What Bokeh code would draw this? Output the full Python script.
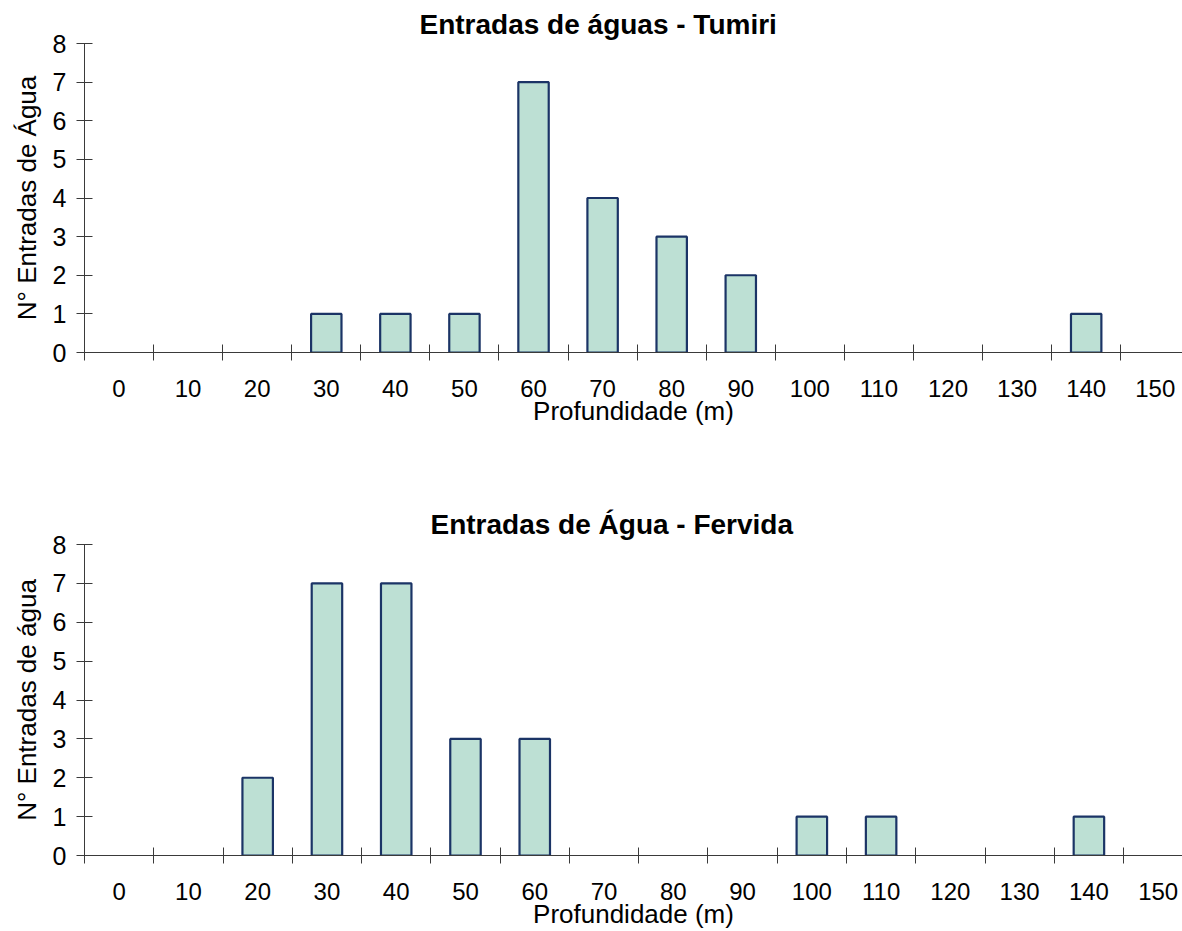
from bokeh.plotting import figure
from bokeh.layouts import column
from bokeh.models import Range1d, FixedTicker, Title, ColumnDataSource
from bokeh.embed import file_html
from bokeh.resources import INLINE

# Depth classes (m) and number of water entries per class
depths = [0, 10, 20, 30, 40, 50, 60, 70, 80, 90, 100, 110, 120, 130, 140, 150]
tumiri = [0, 0, 0, 1, 1, 1, 7, 4, 3, 2, 0, 0, 0, 0, 1, 0]
fervida = [0, 0, 2, 7, 7, 3, 3, 0, 0, 0, 1, 1, 0, 0, 1, 0]

title_tumiri = "Entradas de águas - Tumiri"
title_fervida = "Entradas de Água - Fervida"
ylabel_tumiri = "N° Entradas de Água"
ylabel_fervida = "N° Entradas de água"
xlabel = "Profundidade (m)"
y_ticks = [0, 1, 2, 3, 4, 5, 6, 7, 8]

FONT = "Liberation Sans"
FILL = "#bde0d4"
EDGE = "#1b3466"
AXIS = "#3a3a3a"
WIDTH = 1182


def make_panel(values, title, ylabel, height, border_left, border_top,
               border_bottom, x_end, title_offset, title_standoff):
    centers = [i + 0.5 for i in range(len(depths))]
    bounds = [float(i) for i in range(len(depths))]
    keep = [i for i, v in enumerate(values) if v > 0]
    src = ColumnDataSource(dict(
        x=[centers[i] for i in keep],
        top=[values[i] for i in keep],
    ))

    p = figure(width=WIDTH, height=height, output_backend="svg",
               toolbar_location=None, tools="",
               x_range=Range1d(0, x_end), y_range=Range1d(0, 8),
               min_border_left=border_left, min_border_right=0,
               min_border_top=border_top, min_border_bottom=border_bottom)
    p.outline_line_color = None
    p.background_fill_color = "white"
    p.border_fill_color = "white"
    p.xgrid.visible = False
    p.ygrid.visible = False

    p.vbar(x="x", top="top", width=0.44, bottom=0, source=src,
           fill_color=FILL, line_color=EDGE, line_width=2.2)

    # x axis: labels at class centres, tick marks between classes
    xa = p.xaxis[0]
    xa.ticker = FixedTicker(ticks=centers, minor_ticks=bounds)
    xa.major_label_overrides = {c: str(d) for c, d in zip(centers, depths)}
    xa.major_tick_in = 0
    xa.major_tick_out = 0
    xa.minor_tick_in = 8
    xa.minor_tick_out = 8
    xa.minor_tick_line_color = AXIS
    xa.axis_line_color = AXIS
    xa.major_label_text_font = FONT
    xa.major_label_text_font_size = "24px"
    xa.major_label_text_color = "black"
    xa.major_label_standoff = 19
    xa.axis_label = xlabel
    xa.axis_label_text_font = FONT
    xa.axis_label_text_font_size = "26px"
    xa.axis_label_text_font_style = "normal"
    xa.axis_label_text_color = "black"
    xa.axis_label_standoff = -4

    ya = p.yaxis[0]
    ya.ticker = FixedTicker(ticks=y_ticks, minor_ticks=[])
    ya.major_tick_in = 8
    ya.major_tick_out = 8
    ya.major_tick_line_color = AXIS
    ya.axis_line_color = AXIS
    ya.major_label_text_font = FONT
    ya.major_label_text_font_size = "25px"
    ya.major_label_text_color = "black"
    ya.major_label_standoff = 10
    ya.axis_label = ylabel
    ya.axis_label_text_font = FONT
    ya.axis_label_text_font_size = "26px"
    ya.axis_label_text_font_style = "normal"
    ya.axis_label_text_color = "black"
    ya.axis_label_standoff = 8

    p.add_layout(Title(text=title, align="left", offset=title_offset,
                       standoff=title_standoff, text_font=FONT,
                       text_font_size="28px", text_font_style="bold",
                       text_color="black"), "above")
    return p


top = make_panel(tumiri, title_tumiri, ylabel_tumiri, height=470,
                 border_left=81, border_top=43, border_bottom=118,
                 x_end=(WIDTH - 81) / 69.27, title_offset=335, title_standoff=7)
bottom = make_panel(fervida, title_fervida, ylabel_fervida, height=461,
                    border_left=84, border_top=74, border_bottom=74,
                    x_end=(WIDTH - 84) / 69.27, title_offset=346, title_standoff=9)

layout = column(top, bottom, spacing=0)
open("out.html", "w").write(file_html(layout, INLINE))
